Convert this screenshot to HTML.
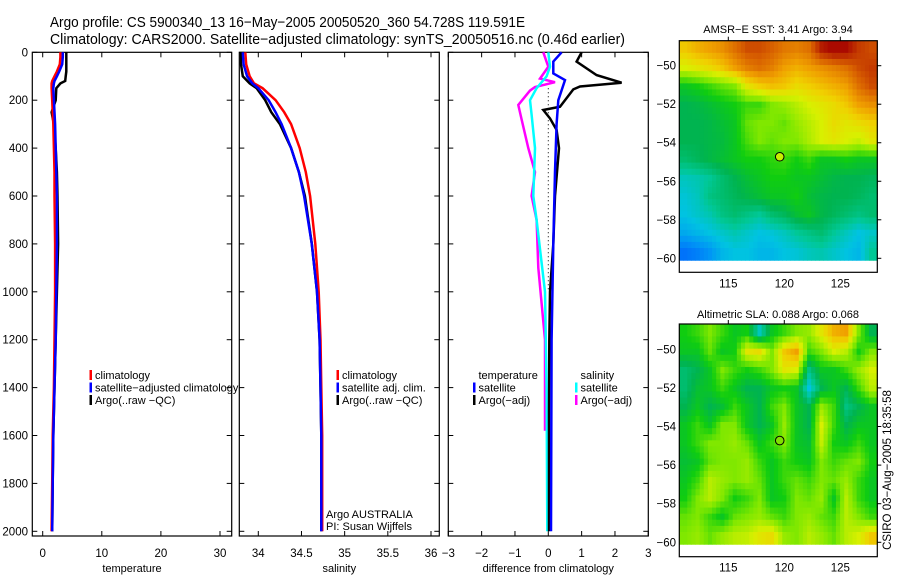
<!DOCTYPE html>
<html><head><meta charset="utf-8"><style>
html,body{margin:0;padding:0;background:#fff;}
svg{display:block;font-family:"Liberation Sans",sans-serif;}
</style></head><body>
<svg id="fig" width="900" height="580" viewBox="0 0 900 580">
<text x="50" y="27" font-size="14.5" textLength="475" lengthAdjust="spacingAndGlyphs">Argo profile: CS 5900340_13 16−May−2005 20050520_360 54.728S 119.591E</text>
<text x="50" y="44" font-size="14.5" textLength="575" lengthAdjust="spacingAndGlyphs">Climatology: CARS2000. Satellite−adjusted climatology: synTS_20050516.nc (0.46d earlier)</text>
<g id="g"></g>
</svg>
<script>
// ---------- data ----------
const tDepths=[0,20,50,80,100,120,130,150,200,250,300,400,500,600,800,1000,1200,1400,1600,1800,2000];
const tClim=[3.0,3.0,2.9,2.4,2.0,1.6,1.5,1.5,1.6,1.7,1.8,1.9,2.0,2.0,2.1,2.1,2.0,1.9,1.7,1.6,1.5];
const tSat=[3.4,3.4,3.3,2.8,2.4,2.0,1.9,1.8,1.9,2.0,2.1,2.2,2.3,2.4,2.4,2.3,2.2,2.0,1.8,1.7,1.6];
const tArgo=[4.0,4.0,4.0,4.0,3.9,3.8,3.0,2.3,2.2,1.5,1.9,2.2,2.4,2.5,2.6,2.4,2.2,2.0,1.8,1.7,1.6];
const sDepths=[0,50,100,130,150,200,250,300,400,500,600,800,1000,1200,1400,1600,1800,2000];
const sClim=[33.85,33.86,33.9,33.95,34.05,34.2,34.3,34.38,34.48,34.55,34.6,34.66,34.7,34.72,34.73,34.74,34.74,34.74];
const sSat=[33.82,33.83,33.87,33.93,34.0,34.12,34.2,34.27,34.38,34.47,34.53,34.62,34.68,34.71,34.72,34.73,34.73,34.73];
const sArgo=[33.8,33.8,33.82,33.9,33.98,34.08,34.15,34.25,34.38,34.47,34.54,34.62,34.68,34.71,34.72,34.73,34.73,34.73];
const dTDepths=[0,39,95,127,143,155,227,241,276,324,400,600,800,1000,1200,1500,2000];
const dTArgo=[1.0,0.85,1.45,2.2,0.95,0.75,0.35,-0.15,0.05,0.25,0.32,0.2,0.15,0.05,0.03,0.02,0.02];
const dTSatDepths=[0,39,88,116,200,300,500,800,1200,2000];
const dTSat=[0.4,0.15,0.15,0.5,0.3,0.25,0.2,0.15,0.1,0.08];
const dSDepths=[0,60,100,150,200,260,400,600,700,1000,1400,2000];
const dSSat=[0,0.05,-0.05,-0.35,-0.55,-0.5,-0.4,-0.45,-0.35,-0.1,-0.05,-0.03];
const dSArgoDepths=[0,60,80,110,125,145,160,220,280,400,500,600,700,900,1200,1580];
const dSArgo=[-0.15,0,-0.1,-0.25,0.2,-0.4,-0.55,-0.9,-0.8,-0.6,-0.4,-0.5,-0.35,-0.3,-0.1,-0.1];
const depthTicks=[0,200,400,600,800,1000,1200,1400,1600,1800,2000];
const tTicks=[0,10,20,30];
const sTicks=[34,34.5,35,35.5,36];
const dTicks=[-3,-2,-1,0,1,2,3];
const lonTicks=[115,120,125];
const latTicks=[-50,-52,-54,-56,-58,-60];
const sstGrid=[
[0.75,0.78,0.8,0.82,0.86,0.9,0.9,0.88,0.85,0.84,0.86,0.95,0.98,0.97,0.92,0.9],
[0.68,0.7,0.72,0.75,0.8,0.84,0.86,0.84,0.8,0.78,0.8,0.82,0.84,0.86,0.9,0.92],
[0.5,0.52,0.55,0.58,0.6,0.7,0.74,0.76,0.75,0.72,0.74,0.76,0.78,0.8,0.86,0.9],
[0.45,0.46,0.48,0.5,0.52,0.55,0.55,0.6,0.62,0.65,0.68,0.7,0.72,0.75,0.8,0.82],
[0.45,0.45,0.46,0.48,0.5,0.58,0.6,0.6,0.58,0.62,0.65,0.68,0.72,0.7,0.72,0.74],
[0.45,0.45,0.46,0.47,0.5,0.56,0.6,0.58,0.6,0.6,0.64,0.68,0.7,0.68,0.66,0.7],
[0.42,0.44,0.46,0.48,0.5,0.52,0.52,0.54,0.55,0.52,0.55,0.5,0.5,0.52,0.5,0.5],
[0.35,0.36,0.38,0.42,0.45,0.48,0.5,0.52,0.52,0.5,0.5,0.48,0.46,0.45,0.45,0.44],
[0.33,0.35,0.4,0.42,0.44,0.46,0.48,0.5,0.5,0.52,0.48,0.46,0.45,0.45,0.44,0.42],
[0.32,0.34,0.36,0.4,0.42,0.4,0.38,0.42,0.44,0.48,0.5,0.46,0.44,0.42,0.4,0.42],
[0.28,0.3,0.32,0.34,0.36,0.34,0.32,0.33,0.35,0.38,0.4,0.42,0.38,0.35,0.32,0.34],
[0.2,0.22,0.25,0.3,0.32,0.32,0.3,0.3,0.32,0.33,0.35,0.36,0.34,0.32,0.3,0.38]];
const slaGrid=[
[0.52,0.55,0.6,0.55,0.5,0.52,0.35,0.5,0.55,0.6,0.62,0.7,0.78,0.8,0.6,0.45],
[0.5,0.5,0.58,0.5,0.52,0.7,0.72,0.6,0.75,0.8,0.55,0.6,0.68,0.65,0.52,0.6],
[0.42,0.45,0.5,0.6,0.55,0.52,0.55,0.6,0.7,0.68,0.4,0.5,0.5,0.55,0.62,0.68],
[0.42,0.48,0.5,0.55,0.5,0.45,0.45,0.5,0.52,0.5,0.32,0.45,0.5,0.45,0.55,0.65],
[0.45,0.5,0.45,0.48,0.55,0.5,0.45,0.55,0.6,0.5,0.45,0.62,0.55,0.4,0.45,0.5],
[0.5,0.55,0.5,0.6,0.6,0.5,0.45,0.5,0.62,0.5,0.45,0.68,0.55,0.45,0.5,0.5],
[0.5,0.55,0.6,0.6,0.62,0.58,0.5,0.55,0.6,0.5,0.48,0.66,0.52,0.5,0.55,0.5],
[0.48,0.5,0.58,0.6,0.6,0.62,0.55,0.5,0.55,0.52,0.5,0.6,0.55,0.58,0.6,0.52],
[0.5,0.55,0.65,0.62,0.6,0.62,0.58,0.5,0.55,0.58,0.55,0.6,0.58,0.62,0.55,0.5],
[0.52,0.6,0.65,0.6,0.52,0.55,0.6,0.5,0.52,0.6,0.58,0.62,0.5,0.65,0.55,0.5],
[0.58,0.6,0.55,0.5,0.58,0.6,0.62,0.58,0.55,0.6,0.62,0.58,0.55,0.65,0.6,0.55],
[0.6,0.62,0.58,0.62,0.65,0.66,0.7,0.72,0.62,0.6,0.65,0.62,0.58,0.65,0.68,0.75]];
const floatLon=119.591, floatLat=-54.728;

// ---------- helpers ----------
const NS="http://www.w3.org/2000/svg";
const G=document.getElementById('g');
function mk(tag,attrs,parent){const e=document.createElementNS(NS,tag);for(const k in attrs)e.setAttribute(k,attrs[k]);(parent||G).appendChild(e);return e;}
const yTop=52.3, yBot=536, yPer=0.2395;
function yD(d){return yTop+d*yPer;}
function lin(v0,p0,v1,p1){return v=>p0+(v-v0)*(p1-p0)/(v1-v0);}
const xT=lin(0,42.7,30,220);
const xS=lin(34,258.3,36,431);
const xDf=lin(-3,448.3,3,648.3);
const panels=[
 {x0:32.3,x1:231.7,sx:xT,ticks:tTicks,lab:'temperature',name:'temperature-panel',ylabels:true},
 {x0:239.3,x1:439.3,sx:xS,ticks:sTicks,lab:'salinity',name:'salinity-panel'},
 {x0:448.3,x1:648.3,sx:xDf,ticks:dTicks,lab:'difference from climatology',name:'difference-panel'}];
panels.forEach(p=>{
 const g=mk('g',{});
 
 
 const r=mk('rect',{x:p.x0,y:yTop,width:p.x1-p.x0,height:yBot-yTop,fill:'none',stroke:'#000','stroke-width':1.2},g);
 
 
 p.ticks.forEach(t=>{const x=p.sx(t);
  mk('line',{x1:x,x2:x,y1:yBot,y2:yBot-5,stroke:'#000'},g);
  mk('line',{x1:x,x2:x,y1:yTop,y2:yTop+5,stroke:'#000'},g);
  const tx=mk('text',{x:x,y:557,'font-size':11.5,'text-anchor':'middle'},g);
  tx.textContent=String(t).replace('-','−');
  
  });
 depthTicks.forEach(d=>{const y=yD(d);
  mk('line',{x1:p.x0,x2:p.x0+5,y1:y,y2:y,stroke:'#000'},g);
  mk('line',{x1:p.x1,x2:p.x1-5,y1:y,y2:y,stroke:'#000'},g);
  if(p.ylabels){const tx=mk('text',{x:28,y:y+4,'font-size':11.5,'text-anchor':'end'},g);tx.textContent=d;
   
   }});
 const xl=mk('text',{x:(p.x0+p.x1)/2,y:572,'font-size':11,'text-anchor':'middle'},g);
 xl.textContent=p.lab;
 
 
});
function prof(depths,vals,sx,color,name,w,dash){
 const pts=depths.map((d,i)=>sx(vals[i]).toFixed(1)+','+yD(d).toFixed(1)).join(' ');
 const e=mk('polyline',{points:pts,fill:'none',stroke:color,'stroke-width':w||2.5,'stroke-linejoin':'miter'});
 if(dash)e.setAttribute('stroke-dasharray',dash);
 
 
}
prof(tDepths,tArgo,xT,'#000','temperature-argo-line');
prof(tDepths,tClim,xT,'#f00','temperature-climatology-line');
prof(tDepths,tSat,xT,'#00f','temperature-satellite-line');
prof(sDepths,sArgo,xS,'#000','salinity-argo-line');
prof(sDepths,sClim,xS,'#f00','salinity-climatology-line');
prof(sDepths,sSat,xS,'#00f','salinity-satellite-line');
const zl=mk('line',{x1:xDf(0),x2:xDf(0),y1:yD(150),y2:yD(1000),stroke:'#000','stroke-dasharray':'1,3'});


prof(dSArgoDepths,dSArgo,xDf,'#f0f','salinity-argo-diff-line');
prof(dSDepths,dSSat,xDf,'#0ff','salinity-satellite-diff-line');
prof(dTDepths,dTArgo,xDf,'#000','temperature-argo-diff-line');
prof(dTSatDepths,dTSat,xDf,'#00f','temperature-satellite-diff-line');

function legend(x,entries,name){
 const g=mk('g',{});
 
 
 entries.forEach((e,i)=>{const yb=379+i*12.5;
  if(e[1])mk('rect',{x:x,y:yb-9,width:2.5,height:10,fill:e[1]},g);
  const t=mk('text',{x:x+5.5,y:yb,'font-size':11},g);t.textContent=e[0];
  
  });
}
legend(89.5,[['climatology','#f00'],['satellite−adjusted climatology','#00f'],['Argo(..raw −QC)','#000']],'temperature-legend');
legend(336.5,[['climatology','#f00'],['satellite adj. clim.','#00f'],['Argo(..raw −QC)','#000']],'salinity-legend');
legend(473,[['temperature',null],['satellite','#00f'],['Argo(−adj)','#000']],'temperature-diff-legend');
legend(575,[['salinity',null],['satellite','#0ff'],['Argo(−adj)','#f0f']],'salinity-diff-legend');
const n1=mk('text',{x:326,y:518,'font-size':11});n1.textContent='Argo AUSTRALIA';


const n2=mk('text',{x:326,y:530,'font-size':11});n2.textContent='PI: Susan Wijffels';



// ---------- maps ----------
const stops=[[0.15,[0,80,255]],[0.25,[0,150,245]],[0.32,[0,195,225]],[0.38,[0,200,150]],[0.45,[0,180,80]],[0.52,[16,205,16]],[0.6,[128,232,0]],[0.68,[216,240,0]],[0.74,[240,208,0]],[0.8,[240,160,0]],[0.88,[216,96,0]],[0.97,[170,10,0]]];
function cmap(v){if(v<=stops[0][0])return 'rgb('+stops[0][1]+')';
 for(let i=1;i<stops.length;i++){if(v<=stops[i][0]){const a=stops[i-1],b=stops[i],f=(v-a[0])/(b[0]-a[0]);
  return 'rgb('+a[1].map((c,j)=>Math.round(c+(b[1][j]-c)*f)).join(',')+')';}}
 return 'rgb('+stops[stops.length-1][1]+')';}
function sample(grid,fr,fc){
 const R=grid.length,C=grid[0].length;
 fr=Math.max(0,Math.min(R-1,fr)); fc=Math.max(0,Math.min(C-1,fc));
 const r0=Math.floor(fr),c0=Math.floor(fc),r1=Math.min(R-1,r0+1),c1=Math.min(C-1,c0+1);
 const a=fr-r0,b=fc-c0;
 return grid[r0][c0]*(1-a)*(1-b)+grid[r0][c1]*(1-a)*b+grid[r1][c0]*a*(1-b)+grid[r1][c1]*a*b;
}
function drawMap(grid,y50,y60,boxTop,boxBot,title,titleY,name,dotColor){
 const g=mk('g',{});
 
 
 const mx=lin(115,728.3,125,840.3), my=lin(-50,y50,-60,y60);
 const lon0=110.6,lon1=128.3,lat0=-48.7,lat1=-60.1;
 const rows=grid.length, cols=grid[0].length, k=3;
 const R=rows*k, C=cols*k;
 const dLon=(lon1-lon0)/C, dLat=(lat1-lat0)/R;
 for(let r=0;r<R;r++)for(let c=0;c<C;c++){
  const v=sample(grid,(r+0.5)/k-0.5,(c+0.5)/k-0.5);
  const x=mx(lon0+c*dLon), y=my(lat0+r*dLat);
  const cell=mk('rect',{x:x.toFixed(2),y:y.toFixed(2),width:(mx(lon0+(c+1)*dLon)-x+0.5).toFixed(2),height:(my(lat0+(r+1)*dLat)-y+0.5).toFixed(2),fill:cmap(v)},g);
  
  }
 const fr=mk('rect',{x:679.3,y:boxTop,width:198,height:boxBot-boxTop,fill:'none',stroke:'#000','stroke-width':1.2},g);
 
 
 lonTicks.forEach(l=>{const x=mx(l);
  mk('line',{x1:x,x2:x,y1:boxTop,y2:boxTop-4,stroke:'#000'},g);
  const t=mk('text',{x:x,y:boxBot+15,'font-size':11.5,'text-anchor':'middle'},g);t.textContent=l;
  
  });
 latTicks.forEach(l=>{const y=my(l);
  mk('line',{x1:877.3,x2:881.3,y1:y,y2:y,stroke:'#000'},g);
  const t=mk('text',{x:676,y:y+4,'font-size':11.5,'text-anchor':'end'},g);t.textContent=String(l).replace('-','−');
  
  });
 const tt=mk('text',{x:778,y:titleY,'font-size':11,'text-anchor':'middle'},g);tt.textContent=title;
 
 
 const dot=mk('circle',{cx:mx(floatLon),cy:my(floatLat),r:4.3,fill:dotColor,stroke:'#000','stroke-width':1},g);
 
 
}
drawMap(sstGrid,65.7,258.3,40.7,272.3,'AMSR−E SST: 3.41 Argo: 3.94',33,'sst-map','#c8f000');
drawMap(slaGrid,349.3,542.3,324,556.7,'Altimetric SLA: 0.088 Argo: 0.068',318,'sla-map','#80e000');
const stamp=mk('text',{x:0,y:0,'font-size':11.5,'text-anchor':'middle',transform:'translate(891,470) rotate(-90)'});
stamp.textContent='CSIRO 03−Aug−2005 18:35:58';


</script>
</body></html>
